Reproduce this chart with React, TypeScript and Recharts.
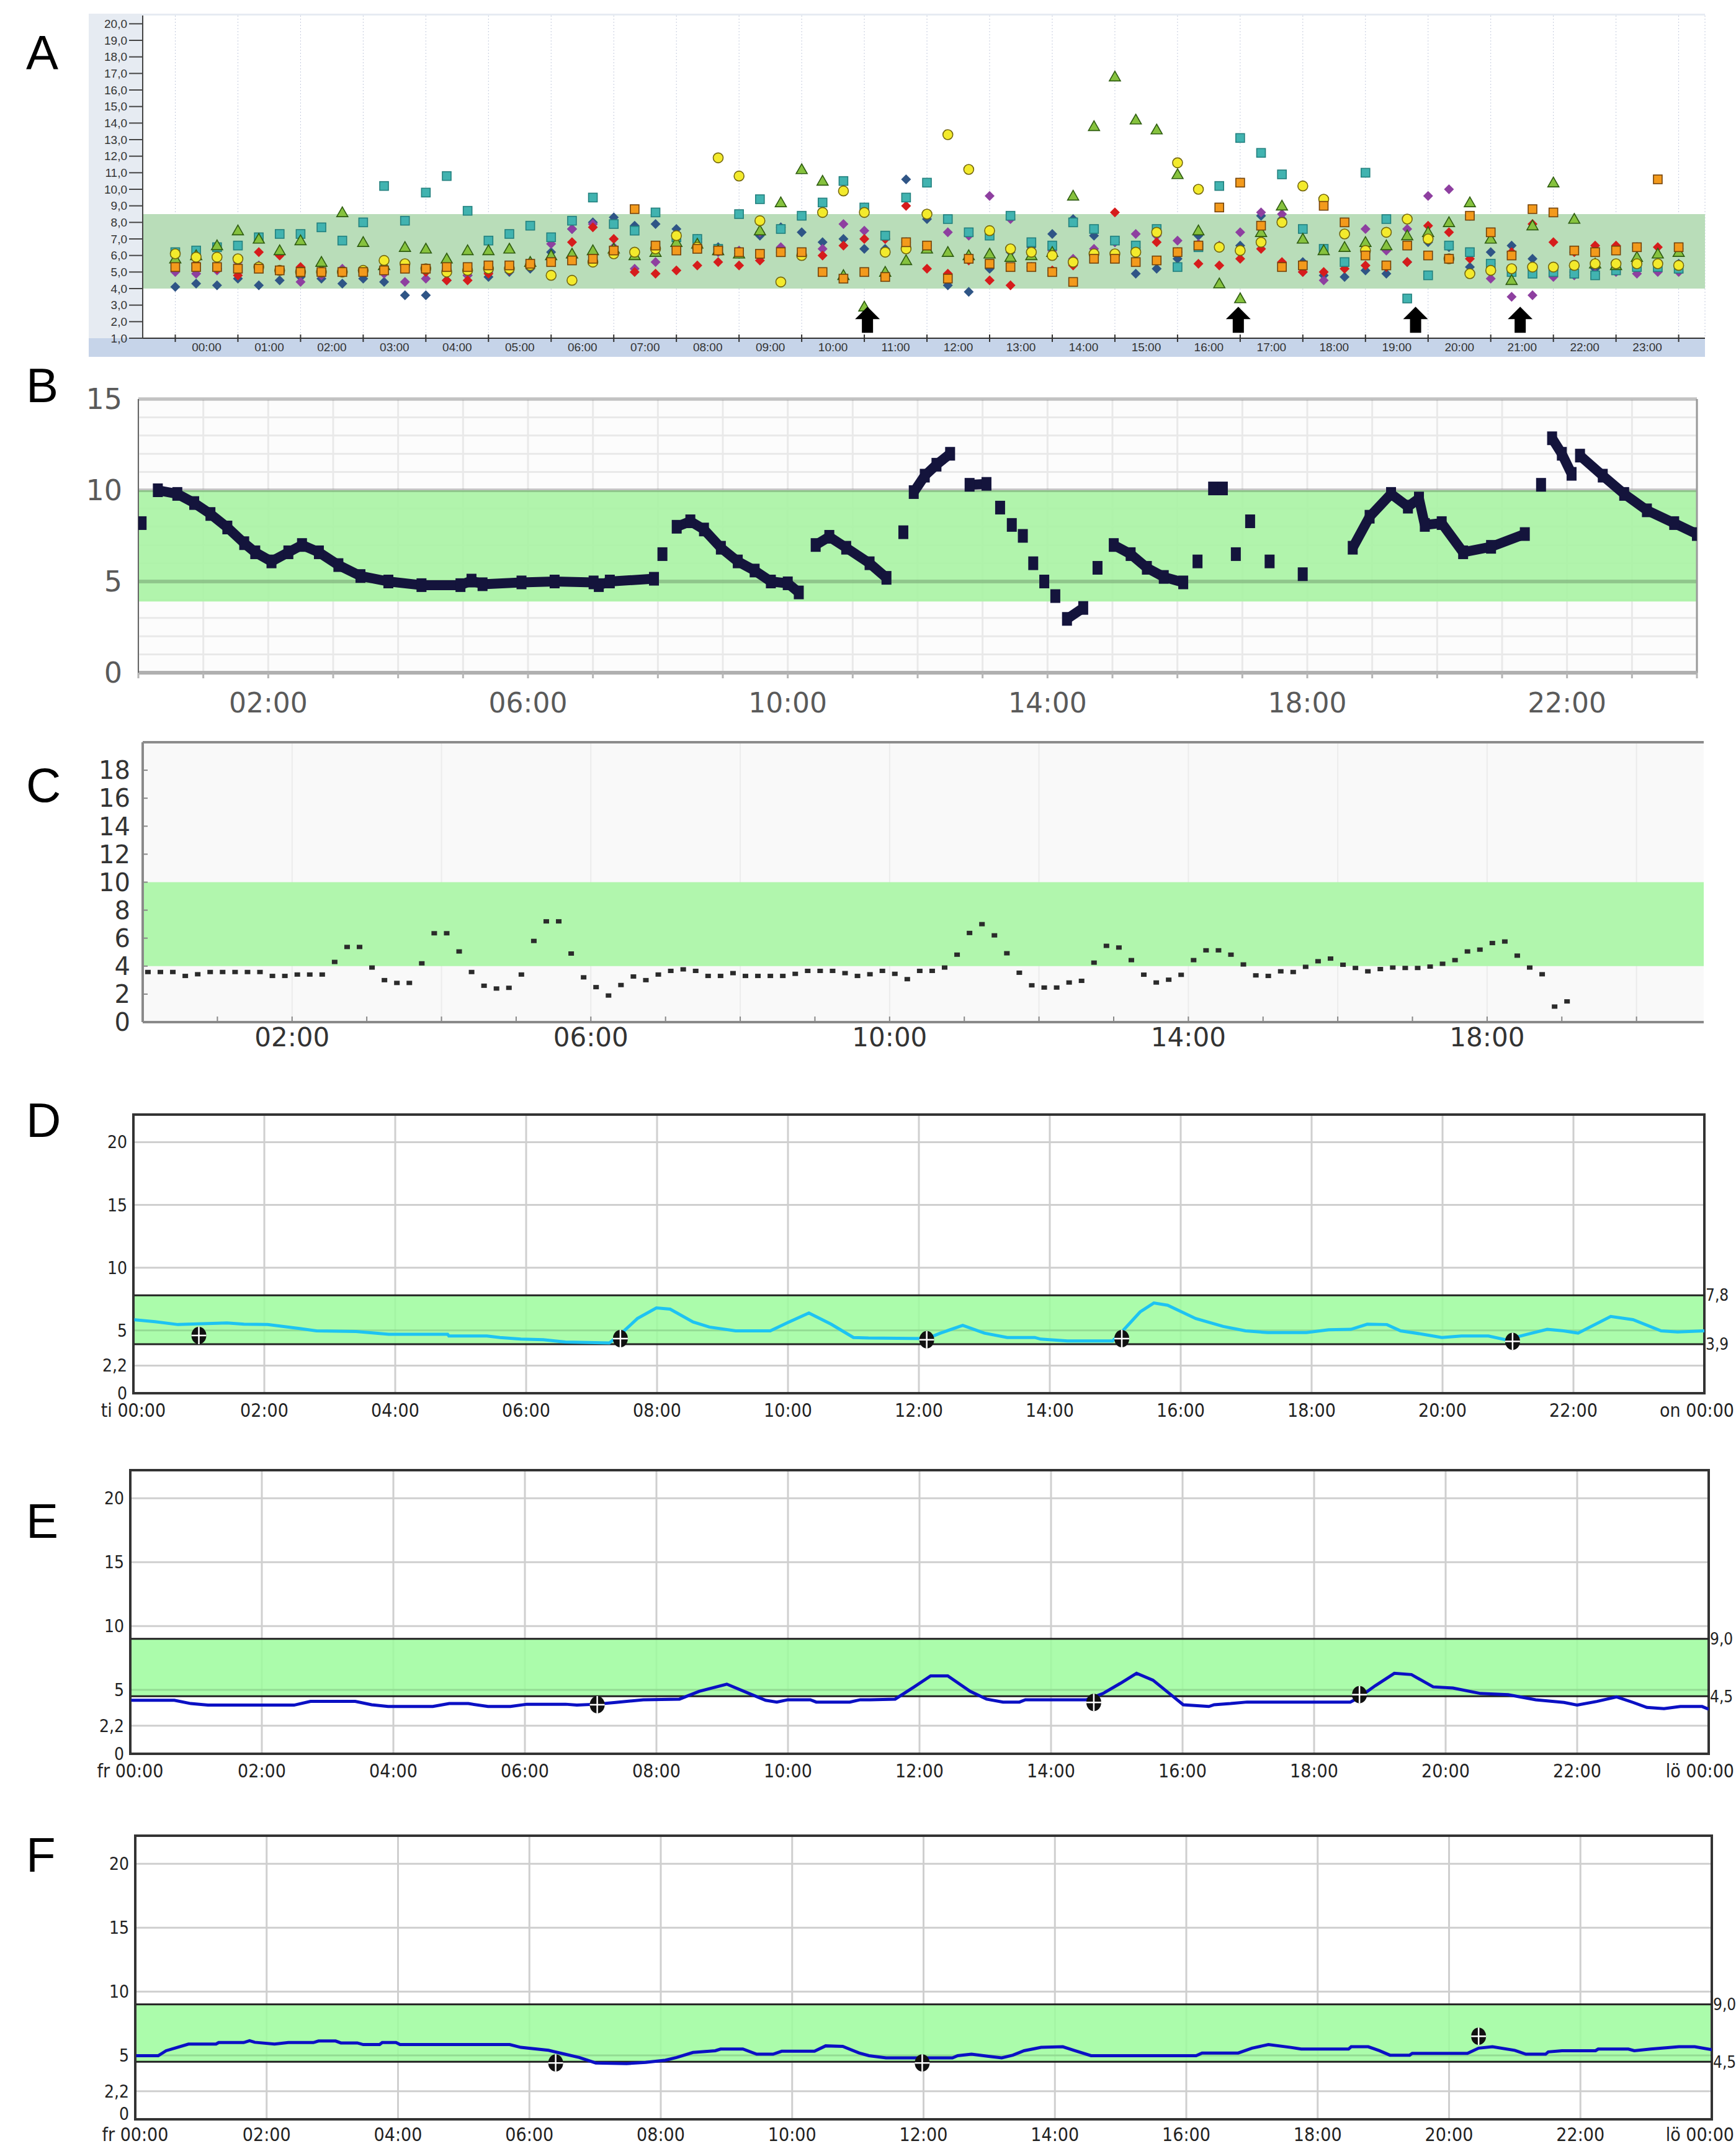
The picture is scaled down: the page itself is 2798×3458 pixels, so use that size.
import React from "react";
import {
  ScatterChart,
  ComposedChart,
  Scatter,
  Line,
  XAxis,
  YAxis,
  CartesianGrid,
  ReferenceArea,
  ReferenceLine,
  ReferenceDot,
} from "recharts";

const W = 2798;
const SANS = "'Liberation Sans', Arial, sans-serif";
const MPL = "'DejaVu Sans', sans-serif";
const NARROW = "'Liberation Sans Narrow', 'DejaVu Sans Condensed', 'Liberation Sans', sans-serif";

const hh = (h: number) => `${String(h).padStart(2, "0")}:00`;
const hours24 = Array.from({ length: 25 }, (_, i) => i);

// ---------- A: seven days overlaid, read every 20 min ----------
const aHours = Array.from({ length: 73 }, (_, i) => i / 3);
const aYTicks = [1, 2, 3, 4, 5, 6, 7, 8, 9, 10, 11, 12, 13, 14, 15, 16, 17, 18, 19, 20];
const aArrows = [11.05, 16.97, 19.8, 21.47];

const aGreen = [
  5.8, 6.0, 6.6, 7.5, 7.0, 6.3, 6.9, 5.6, 8.6, 6.8, 5.4, 6.5,
  6.4, 5.8, 6.3, 6.3, 6.4, 5.6, 6.0, 6.1, 6.3, 6.4, 6.0, 6.2,
  6.8, 6.7, 6.3, 6.1, 7.5, 9.2, 11.2, 10.5, 4.8, 2.9, 5.0, 5.7,
  6.4, 6.2, 6.0, 6.1, 5.9, 6.0, 6.2, 9.6, 13.8, 16.8, 14.2, 13.6,
  10.9, 7.5, 4.3, 3.4, 7.4, 9.0, 7.0, 6.3, 6.5, 6.8, 6.6, 7.2,
  7.4, 8.0, 9.2, 7.0, 4.5, 7.8, 10.4, 8.2, 5.5, 5.4, 5.9, 6.1,
  6.2,
];
const aTeal = [
  6.2, 6.3, 6.5, 6.6, 7.1, 7.3, 7.3, 7.7, 6.9, 8.0, 10.2, 8.1,
  9.8, 10.8, 8.7, 6.9, 7.3, 7.8, 7.1, 8.1, 9.5, 7.9, 7.5, 8.6,
  7.1, 7.0, 6.4, 8.5, 9.4, 7.6, 8.4, 9.2, 10.5, 8.9, 7.2, 9.5,
  10.4, 8.2, 7.4, 7.2, 8.4, 6.8, 6.6, 8.0, 7.6, 6.9, 6.6, 7.6,
  5.3, 6.5, 10.2, 13.1, 12.2, 10.9, 7.6, 6.4, 5.6, 11.0, 8.2, 3.4,
  4.8, 6.6, 6.2, 5.5, 5.0, 4.9, 5.0, 4.9, 4.8, 5.1, 5.3, 5.3,
  5.2,
];
const aYellow = [
  6.1, 5.9, 5.9, 5.8, 5.3, 5.1, 5.0, 5.0, 5.0, 5.1, 5.7, 5.5,
  5.2, 5.0, 5.1, 5.2, 5.2, 5.4, 4.8, 4.5, 5.6, 6.1, 6.2, 6.4,
  7.2, 6.5, 11.9, 10.8, 8.1, 4.4, 6.0, 8.6, 9.9, 8.6, 6.2, 6.4,
  8.5, 13.3, 11.2, 7.5, 6.4, 6.2, 6.0, 5.6, 6.1, 6.1, 6.2, 7.4,
  11.6, 10.0, 6.5, 6.3, 6.8, 8.0, 10.2, 9.4, 7.3, 6.3, 7.4, 8.2,
  7.0, 5.8, 4.9, 5.1, 5.2, 5.3, 5.3, 5.4, 5.5, 5.5, 5.5, 5.5,
  5.4,
];
const aOrange = [
  5.3, 5.3, 5.3, 5.2, 5.2, 5.1, 5.0, 5.0, 5.0, 5.0, 5.1, 5.2,
  5.2, 5.3, 5.3, 5.4, 5.4, 5.5, 5.6, 5.7, 5.8, 6.3, 8.8, 6.6,
  6.3, 6.4, 6.3, 6.2, 6.1, 6.2, 6.2, 5.0, 4.6, 5.0, 4.7, 6.8,
  6.6, 4.6, 5.8, 5.5, 5.3, 5.3, 5.0, 4.4, 5.8, 5.8, 5.6, 5.7,
  6.2, 6.6, 8.9, 10.4, 7.8, 5.3, 5.4, 9.0, 8.0, 6.0, 5.4, 6.6,
  6.0, 5.8, 8.4, 7.4, 6.0, 8.8, 8.6, 6.3, 6.2, 6.3, 6.5, 10.6,
  6.5,
];
const aRed = [
  5.6, 5.5, 5.2, 4.8, 6.2, 6.0, 5.3, 5.0, 5.0, 5.1, 5.2, 5.3,
  5.0, 4.5, 4.5, 4.9, 5.1, 5.5, 5.8, 6.8, 7.7, 7.0, 5.0, 4.9,
  5.1, 5.4, 5.6, 5.4, 5.7, 6.2, 6.1, 6.0, 6.6, 7.0, 7.0, 9.0,
  5.2, 4.9, 5.7, 4.5, 4.2, 5.3, 5.1, 5.4, 6.0, 8.6, 6.5, 6.8,
  6.2, 5.5, 5.4, 5.8, 6.4, 5.6, 5.0, 5.0, 5.2, 5.4, 5.3, 5.6,
  7.8, 7.4, 5.8, 5.5, 6.2, 7.9, 6.8, 6.2, 6.6, 6.6, 6.5, 6.5,
  6.4,
];
const aPurple = [
  5.0, 4.9, 5.1, 5.6, 5.4, 5.1, 4.4, 4.8, 5.2, 5.1, 4.9, 4.4,
  4.6, 5.2, 4.8, 5.0, 5.2, 5.6, 6.7, 7.6, 7.9, 6.5, 5.2, 5.6,
  6.4, 6.8, 6.2, 6.3, 7.4, 6.5, 6.1, 6.4, 7.9, 7.5, 7.0, 6.8,
  6.6, 7.4, 7.2, 9.6, 8.2, 6.2, 6.3, 5.8, 6.4, 6.8, 7.3, 7.2,
  6.9, 6.7, 6.6, 7.4, 8.6, 8.5, 5.0, 4.5, 7.3, 7.6, 6.3, 7.6,
  9.6, 10.0, 8.4, 4.6, 3.5, 3.6, 4.7, 4.8, 4.9, 5.0, 4.9, 5.0,
  5.0,
];
const aNavy = [
  4.1, 4.3, 4.2, 4.6, 4.2, 4.5, 4.7, 4.6, 4.3, 4.6, 4.4, 3.6,
  3.6, 4.5, 4.8, 4.7, 5.0, 5.2, 6.2, 7.6, 8.0, 8.3, 7.8, 7.9,
  7.6, 7.0, 6.5, 6.1, 7.2, 7.7, 7.4, 6.8, 7.0, 6.4, 6.4, 10.6,
  8.2, 4.2, 3.8, 5.2, 6.2, 6.5, 7.3, 8.2, 7.2, 6.8, 4.9, 5.2,
  5.8, 7.2, 6.5, 6.6, 8.4, 8.2, 5.6, 4.8, 4.7, 5.1, 4.9, 5.6,
  6.8, 6.5, 5.3, 6.2, 6.6, 5.8, 5.1, 5.0, 5.2, 5.3, 5.4, 5.5,
  5.5,
];

// ---------- B: one day, thick dots (null = gap) ----------
const bPoints: [number, number | null][] = [
  [0.05, 8.2], [0.18, null],
  [0.3, 10.0], [0.6, 9.8], [0.86, 9.3], [1.11, 8.7], [1.37, 7.96], [1.63, 7.1], [1.8, 6.6],
  [2.05, 6.1], [2.31, 6.6], [2.52, 7.0], [2.78, 6.6], [3.08, 5.9], [3.42, 5.3], [3.85, 5.0],
  [4.36, 4.8], [4.96, 4.8], [5.13, 5.05], [5.3, 4.85], [5.9, 4.95], [6.41, 5.0], [7.01, 4.95],
  [7.09, 4.8], [7.26, 5.0], [7.94, 5.15], [8.0, null],
  [8.07, 6.5], [8.18, null],
  [8.29, 8.0], [8.5, 8.3], [8.71, 7.85], [8.97, 6.85], [9.23, 6.1], [9.49, 5.6], [9.74, 5.0],
  [10.0, 4.9], [10.17, 4.4], [10.3, null],
  [10.43, 7.0], [10.64, 7.45], [10.9, 6.85], [11.26, 6.0], [11.52, 5.2], [11.65, null],
  [11.78, 7.7], [11.86, null],
  [11.94, 9.9], [12.11, 10.8], [12.29, 11.4], [12.5, 12.0], [12.65, null],
  [12.8, 10.3], [13.06, 10.35], [13.16, null],
  [13.27, 9.05], [13.36, null], [13.45, 8.1], [13.53, null], [13.62, 7.5], [13.7, null],
  [13.78, 6.0], [13.86, null], [13.95, 5.0], [14.03, null], [14.12, 4.2], [14.2, null],
  [14.3, 2.95], [14.55, 3.55], [14.66, null],
  [14.77, 5.75], [14.9, null],
  [15.02, 7.0], [15.28, 6.5], [15.53, 5.75], [15.79, 5.25], [16.09, 4.95], [16.2, null],
  [16.31, 6.1], [16.43, null],
  [16.55, 10.1], [16.7, 10.1], [16.8, null],
  [16.9, 6.5], [17.0, null],
  [17.12, 8.3], [17.27, null],
  [17.42, 6.1], [17.7, null],
  [17.93, 5.4], [18.3, null],
  [18.7, 6.85], [18.96, 8.55], [19.29, 9.8], [19.55, 9.1], [19.72, 9.55], [19.81, 8.1],
  [20.07, 8.2], [20.4, 6.6], [20.83, 6.9], [21.35, 7.6], [21.48, null],
  [21.6, 10.3], [21.68, null],
  [21.77, 12.85], [21.92, 12.0], [22.07, 10.9], [22.14, null],
  [22.2, 11.9], [22.55, 10.8], [22.88, 9.8], [23.23, 8.9], [23.65, 8.2], [24.0, 7.6],
];
const bLabelHours = [2, 6, 10, 14, 18, 22];
const bGrid = [0, 1, 2, 3, 4, 5, 6, 7, 8, 9, 10, 11, 12, 13, 14, 15];

// ---------- C: one day, 10 min readings from 00:04 ----------
const cStart = 0.07;
const cValues = [
  3.58, 3.58, 3.58, 3.3, 3.42, 3.58, 3.58, 3.58, 3.58, 3.58, 3.3, 3.3, 3.4, 3.4, 3.4,
  4.3, 5.37, 5.37, 3.9, 3.0, 2.8, 2.8, 4.2, 6.35, 6.35, 5.05, 3.58, 2.6, 2.4, 2.45,
  3.4, 5.8, 7.2, 7.2, 4.9, 3.2, 2.5, 1.9, 2.65, 3.26, 3.0, 3.4, 3.66, 3.77, 3.66,
  3.3, 3.3, 3.5, 3.3, 3.3, 3.3, 3.3, 3.45, 3.66, 3.66, 3.66, 3.5, 3.3,
  3.42, 3.66, 3.45, 3.07, 3.66, 3.66, 3.9, 4.82, 6.37, 7.0, 6.2, 4.92, 3.53, 2.63, 2.47,
  2.47, 2.83, 2.95, 4.25, 5.45, 5.33, 4.43, 3.39, 2.83, 3.03, 3.38, 4.43, 5.13, 5.13, 4.82,
  4.12, 3.34, 3.3, 3.63, 3.58, 3.95, 4.35, 4.54, 4.1, 3.87, 3.63, 3.79, 3.9, 3.87, 3.87,
  3.97, 4.17, 4.43, 5.05, 5.18, 5.65, 5.76, 4.75, 3.9, 3.42, 1.11, 1.48,
];
const cYTicks = [0, 2, 4, 6, 8, 10, 12, 14, 16, 18];
const cXTicks = [0, 1, 2, 3, 4, 5, 6, 7, 8, 9, 10, 11, 12, 13, 14, 15, 16, 17, 18, 19, 20];
const cLabelHours = [2, 6, 10, 14, 18];

// ---------- D ----------
const dT = [
  0, 0.33, 0.68, 1.43, 1.69, 2.05, 2.54, 2.8, 3.4, 3.9, 4.8, 4.82, 5.4, 5.6, 5.92, 6.26, 6.6,
  7.27, 7.44, 7.7, 7.99, 8.2, 8.55, 8.8, 9.2, 9.73, 9.98, 10.32, 10.66, 11.0, 11.23, 12.12,
  12.33, 12.67, 13.0, 13.35, 13.77, 13.86, 14.27, 14.96, 15.13, 15.38, 15.59, 15.8, 16.23,
  16.65, 16.99, 17.33, 17.92, 18.26, 18.6, 18.85, 19.15, 19.36, 19.7, 19.99, 20.29, 20.7,
  20.97, 21.3, 21.6, 21.85, 22.07, 22.57, 22.91, 23.34, 23.59, 24,
];
const dV = [
  5.86, 5.7, 5.47, 5.6, 5.5, 5.47, 5.15, 4.97, 4.92, 4.7, 4.7, 4.56, 4.56, 4.44, 4.31, 4.26, 4.08,
  4.0, 4.7, 5.95, 6.8, 6.7, 5.68, 5.27, 4.97, 4.97, 5.59, 6.39, 5.5, 4.44, 4.4, 4.35,
  4.79, 5.41, 4.79, 4.44, 4.44, 4.31, 4.17, 4.17, 5.06, 6.48, 7.19, 7.01, 5.95,
  5.32, 4.97, 4.83, 4.83, 5.06, 5.09, 5.5, 5.47, 4.97, 4.7, 4.44, 4.56, 4.56,
  4.26, 4.7, 5.09, 4.97, 4.79, 6.12, 5.86, 4.97, 4.88, 4.97,
];
const dMealT = [1.0, 7.44, 12.12, 15.1, 21.07];
const dMealV = [4.6, 4.35, 4.26, 4.35, 4.13];

// ---------- E ----------
const eT = [
  0, 0.67, 0.92, 1.18, 2.49, 2.74, 3.42, 3.67, 3.92, 4.6, 4.85, 5.14, 5.44, 5.78, 6.03, 6.62,
  6.79, 7.08, 7.38, 7.8, 8.35, 8.65, 9.07, 9.41, 9.66, 9.83, 10.0, 10.34, 10.43, 10.94, 11.1,
  11.25, 11.63, 11.92, 12.17, 12.43, 12.77, 13.02, 13.27, 13.52, 13.61, 14.54, 14.79, 15.05,
  15.3, 15.55, 15.8, 16.01, 16.4, 16.48, 16.73, 16.98, 18.55, 18.67, 18.93, 19.22, 19.48,
  19.81, 20.11, 20.53, 20.95, 21.37, 21.8, 22.0, 22.3, 22.6, 22.85, 23.06, 23.32, 23.57, 23.9, 24,
];
const eV = [
  4.19, 4.19, 3.93, 3.81, 3.81, 4.1, 4.1, 3.84, 3.7, 3.7, 3.93, 3.93, 3.7, 3.7, 3.88, 3.88,
  3.81, 3.88, 4.02, 4.23, 4.28, 4.89, 5.45, 4.72, 4.19, 4.05, 4.23, 4.23, 4.05, 4.05, 4.23,
  4.23, 4.28, 5.24, 6.1, 6.1, 4.89, 4.28, 4.05, 4.05, 4.23, 4.23, 4.72, 5.5,
  6.3, 5.76, 4.72, 3.84, 3.7, 3.84, 3.93, 4.05, 4.05, 4.37, 5.33, 6.3, 6.2,
  5.24, 5.15, 4.72, 4.63, 4.23, 4.02, 3.81, 4.1, 4.45, 4.02, 3.63, 3.53, 3.7, 3.7, 3.49,
];
const eMealT = [7.1, 14.65, 18.69];
const eMealV = [3.84, 4.02, 4.63];

// ---------- F ----------
const fT = [
  0, 0.35, 0.47, 0.81, 1.23, 1.27, 1.65, 1.74, 1.82, 2.12, 2.33, 2.71, 2.79, 3.05, 3.13, 3.38,
  3.47, 3.72, 3.76, 3.97, 4.03, 5.7, 5.87, 6.29, 6.54, 6.76, 7.01, 7.48, 7.77, 8.07, 8.24, 8.49,
  8.83, 8.91, 9.25, 9.46, 9.71, 9.84, 10.34, 10.51, 10.77, 11.02, 11.17, 11.43, 12.44, 12.52,
  12.73, 12.99, 13.19, 13.36, 13.53, 13.79, 14.12, 14.29, 14.55, 16.15, 16.24, 16.79, 17.0,
  17.25, 17.59, 17.75, 18.47, 18.51, 18.77, 18.94, 19.1, 19.4, 19.44, 20.28, 20.45, 20.66,
  21.0, 21.17, 21.47, 21.51, 21.72, 22.23, 22.27, 22.73, 22.82, 23.07, 23.5, 23.74, 24,
];
const fV = [
  4.98, 4.98, 5.37, 5.89, 5.89, 6.01, 6.01, 6.15, 6.03, 5.89, 6.01, 6.01, 6.13, 6.13, 5.98, 5.98,
  5.85, 5.85, 6.01, 6.01, 5.85, 5.85, 5.63, 5.4, 5.1, 4.84, 4.41, 4.36, 4.46, 4.63, 4.84, 5.23,
  5.37, 5.5, 5.5, 5.1, 5.1, 5.33, 5.33, 5.75, 5.71, 5.19, 4.98, 4.81, 4.81, 4.98,
  5.1, 4.93, 4.81, 5.02, 5.37, 5.63, 5.68, 5.4, 4.98, 4.98, 5.19, 5.19, 5.57,
  5.85, 5.63, 5.5, 5.5, 5.68, 5.68, 5.37, 5.02, 5.02, 5.16, 5.16, 5.57, 5.68,
  5.4, 5.1, 5.1, 5.28, 5.37, 5.37, 5.5, 5.5, 5.37, 5.5, 5.68, 5.68, 5.45,
];
const fMealT = [6.4, 11.98, 20.45];
const fMealV = [4.41, 4.41, 6.5];

const cgmXTicks = [0, 2, 4, 6, 8, 10, 12, 14, 16, 18, 20, 22, 24];
const cgmYTicks = [0, 2.2, 5, 10, 15, 20];

// ---------- marker shapes ----------
const squareShape = (fill: string, stroke: string, s: number) => (p: any) =>
  p.cx == null ? <g /> : (
    <rect x={p.cx - s / 2} y={p.cy - s / 2} width={s} height={s} fill={fill} stroke={stroke} strokeWidth={1.6} />
  );
const circleShape = (fill: string, stroke: string, r: number) => (p: any) =>
  p.cx == null ? <g /> : <circle cx={p.cx} cy={p.cy} r={r} fill={fill} stroke={stroke} strokeWidth={1.6} />;
const triShape = (fill: string, stroke: string, s: number) => (p: any) =>
  p.cx == null ? <g /> : (
    <polygon
      points={`${p.cx},${p.cy - s} ${p.cx + s},${p.cy + s * 0.75} ${p.cx - s},${p.cy + s * 0.75}`}
      fill={fill}
      stroke={stroke}
      strokeWidth={1.6}
    />
  );
const diamondShape = (fill: string, s: number) => (p: any) =>
  p.cx == null ? <g /> : (
    <polygon points={`${p.cx},${p.cy - s} ${p.cx + s},${p.cy} ${p.cx},${p.cy + s} ${p.cx - s},${p.cy}`} fill={fill} />
  );

const arrowShape = (p: any) => {
  const { cx, cy } = p;
  return (
    <polygon
      points={`${cx},${cy} ${cx + 20},${cy + 20} ${cx + 9},${cy + 20} ${cx + 9},${cy + 42} ${cx - 9},${cy + 42} ${cx - 9},${cy + 20} ${cx - 20},${cy + 20}`}
      fill="#000"
    />
  );
};

const mealShape = (p: any) => {
  if (p.cx == null) return <g />;
  const { cx, cy } = p;
  return (
    <g>
      <ellipse cx={cx} cy={cy} rx={12} ry={14} fill="#111" />
      <line x1={cx} x2={cx} y1={cy - 14} y2={cy + 14} stroke="#fff" strokeWidth={2.5} />
      <line x1={cx - 12} x2={cx + 12} y1={cy} y2={cy} stroke="#fff" strokeWidth={2.5} />
    </g>
  );
};

const toA = (vals: number[]) => vals.map((v, i) => ({ t: aHours[i], v }));

const aSeries = [
  { key: "navy", data: toA(aNavy), shape: diamondShape("#2f5586", 8) },
  { key: "purple", data: toA(aPurple), shape: diamondShape("#8e3fa0", 8) },
  { key: "red", data: toA(aRed), shape: diamondShape("#d61c1c", 8) },
  { key: "teal", data: toA(aTeal), shape: squareShape("#41b3b0", "#23807e", 14) },
  { key: "green", data: toA(aGreen), shape: triShape("#86c23e", "#2e5c10", 9) },
  { key: "yellow", data: toA(aYellow), shape: circleShape("#f3ea2c", "#74670e", 8) },
  { key: "orange", data: toA(aOrange), shape: squareShape("#f39a1c", "#74430a", 14) },
];

const ATick = ({ x, y, payload }: any) => (
  <g>
    <line x1={x} x2={x} y1={y - 6} y2={y + 6} stroke="#333" strokeWidth={2} />
    {payload.value < 24 && (
      <text x={x + 50.5} y={y + 21} textAnchor="middle" fontSize={19} fill="#333" fontFamily={SANS}>
        {hh(payload.value)}
      </text>
    )}
  </g>
);

function PanelA() {
  return (
    <>
      <div style={{ position: "absolute", left: 143, top: 22, width: 2605, height: 553, background: "#e6ebf2" }} />
      <div style={{ position: "absolute", left: 143, top: 545, width: 2605, height: 30, background: "#c6d4e9" }} />
      <div style={{ position: "absolute", left: 0, top: 0 }}>
        <ScatterChart width={W} height={600} margin={{ top: 25, right: 50, bottom: 0, left: 0 }}>
          <CartesianGrid horizontal={false} stroke="#c4cbdd" strokeDasharray="2 3" fill="#ffffff" />
          <ReferenceArea y1={4.0} y2={8.5} fill="#b9ddb9" fillOpacity={1} stroke="none" />
          <XAxis
            type="number"
            dataKey="t"
            domain={[-0.52, 24.42]}
            ticks={hours24}
            interval={0}
            allowDataOverflow
            height={55}
            tickSize={0}
            tickMargin={0}
            tickLine={false}
            axisLine={{ stroke: "#333", strokeWidth: 2 }}
            tick={<ATick />}
          />
          <YAxis
            type="number"
            dataKey="v"
            domain={[1, 20.5]}
            ticks={aYTicks}
            interval={0}
            allowDataOverflow
            width={230}
            tickSize={22}
            tickMargin={3}
            tickFormatter={(v: number) => v.toFixed(1).replace(".", ",")}
            tick={{ fontSize: 19, fill: "#333", fontFamily: SANS }}
            tickLine={{ stroke: "#444", strokeWidth: 2 }}
            axisLine={{ stroke: "#444", strokeWidth: 2 }}
          />
          {aSeries.map((s) => (
            <Scatter key={s.key} data={s.data} dataKey="v" shape={s.shape} isAnimationActive={false} />
          ))}
          {aArrows.map((t) => (
            <ReferenceDot key={t} x={t} y={2.9} r={0} shape={arrowShape} />
          ))}
        </ScatterChart>
      </div>
    </>
  );
}

function PanelB() {
  const data = bPoints.map(([t, v]) => ({ t, v }));
  const dot = (p: any) =>
    p.cy == null || p.value == null || Number.isNaN(p.cy) ? (
      <g key={`bd${p.index}`} />
    ) : (
      <rect key={`bd${p.index}`} x={p.cx - 8} y={p.cy - 11} width={16} height={22} fill="#14143c" />
    );
  return (
    <div style={{ position: "absolute", left: 0, top: 600 }}>
      <ComposedChart width={W} height={560} margin={{ top: 43, right: 63, bottom: 0, left: 0 }}>
        <CartesianGrid horizontalValues={bGrid} verticalValues={hours24} stroke="#e9e9e9" strokeWidth={3} fill="#fcfcfc" />
        <ReferenceArea y1={3.9} y2={10} fill="#a6f3a1" fillOpacity={0.88} stroke="none" />
        {[5, 10, 15].map((v) => (
          <ReferenceLine key={v} y={v} stroke="rgba(0,0,0,0.18)" strokeWidth={6} />
        ))}
        <ReferenceLine x={24} stroke="#9a9a9a" strokeWidth={3} />
        <XAxis
          type="number"
          dataKey="t"
          domain={[0, 24]}
          ticks={hours24}
          interval={0}
          allowDataOverflow
          height={76}
          tickSize={9}
          tickMargin={24}
          tickFormatter={(v: number) => (bLabelHours.includes(v) ? hh(v) : "")}
          tick={{ fontSize: 44, fill: "#5a5a5a", fontFamily: MPL }}
          tickLine={{ stroke: "#b5b5b5", strokeWidth: 3 }}
          axisLine={{ stroke: "#b0b0b0", strokeWidth: 6 }}
        />
        <YAxis
          type="number"
          dataKey="v"
          domain={[0, 15]}
          ticks={[0, 5, 10, 15]}
          interval={0}
          allowDataOverflow
          width={223}
          tickSize={0}
          tickMargin={26}
          tick={{ fontSize: 46, fill: "#5a5a5a", fontFamily: MPL }}
          tickLine={false}
          axisLine={{ stroke: "#666", strokeWidth: 2 }}
        />
        <Line
          data={data}
          dataKey="v"
          stroke="#14143c"
          strokeWidth={16}
          strokeLinejoin="round"
          connectNulls={false}
          dot={dot}
          isAnimationActive={false}
        />
      </ComposedChart>
    </div>
  );
}

function PanelC() {
  const data = cValues.map((v, i) => ({ t: cStart + i / 6, v }));
  const shape = (p: any) =>
    p.cx == null ? <g /> : <rect x={p.cx - 4.5} y={p.cy - 3.5} width={9} height={7} fill="#2b2b2b" />;
  return (
    <div style={{ position: "absolute", left: 0, top: 1160 }}>
      <ScatterChart width={W} height={560} margin={{ top: 36, right: 52, bottom: 0, left: 0 }}>
        <CartesianGrid horizontal={false} verticalValues={[2, 4, 6, 8, 10, 12, 14, 16, 18, 20]} stroke="#ececec" strokeWidth={2} fill="#f9f9f9" />
        <ReferenceArea y1={4} y2={10} fill="#b1f6ad" fillOpacity={1} stroke="none" />
        <ReferenceLine y={20} stroke="#8c8c8c" strokeWidth={4} />
        <XAxis
          type="number"
          dataKey="t"
          domain={[0, 20.9]}
          ticks={cXTicks}
          interval={0}
          allowDataOverflow
          height={73}
          tickSize={-9}
          tickMargin={18}
          tickFormatter={(v: number) => (cLabelHours.includes(v) ? hh(v) : "")}
          tick={{ fontSize: 42, fill: "#333", fontFamily: MPL }}
          tickLine={{ stroke: "#888", strokeWidth: 2 }}
          axisLine={{ stroke: "#8a8a8a", strokeWidth: 4 }}
        />
        <YAxis
          type="number"
          dataKey="v"
          domain={[0, 20]}
          ticks={cYTicks}
          interval={0}
          allowDataOverflow
          width={230}
          tickSize={-8}
          tickMargin={28}
          tick={{ fontSize: 40, fill: "#333", fontFamily: MPL }}
          tickLine={{ stroke: "#888", strokeWidth: 2 }}
          axisLine={{ stroke: "#8a8a8a", strokeWidth: 4 }}
        />
        <Scatter data={data} dataKey="v" shape={shape} isAnimationActive={false} />
      </ScatterChart>
    </div>
  );
}

type CgmProps = {
  top: number;
  height: number;
  mTop: number;
  xH: number;
  xGap: number;
  zeroDy: string;
  yW: number;
  mRight: number;
  times: number[];
  values: number[];
  mealT: number[];
  mealV: number[];
  color: string;
  lo: number;
  hi: number;
  first: string;
  last: string;
};

function CgmPanel(p: CgmProps) {
  const data = p.times.map((t, i) => ({ t, v: p.values[i] }));
  const meals = p.mealT.map((t, i) => ({ t, v: p.mealV[i] }));
  const edgeLabel = (v: number) => ({
    value: v.toFixed(1).replace(".", ","),
    position: "right" as const,
    offset: 2,
    fill: "#222",
    fontSize: 26,
    fontFamily: NARROW,
  });
  const xTick = (t: any) => {
    const v = t.payload.value;
    const isLast = v === 24;
    const label = v === 0 ? p.first : isLast ? p.last : hh(v);
    return (
      <text
        key={`xt${v}`}
        x={isLast ? W - 3 : t.x}
        y={t.y}
        dy="0.71em"
        textAnchor={isLast ? "end" : "middle"}
        fontSize={30}
        fill="#222"
        fontFamily={NARROW}
      >
        {label}
      </text>
    );
  };
  const yTick = (t: any) => {
    const v = t.payload.value;
    return (
      <text
        key={`yt${v}`}
        x={t.x}
        y={t.y}
        dy={v === 0 ? p.zeroDy : "0.355em"}
        textAnchor="end"
        fontSize={28}
        fill="#222"
        fontFamily={NARROW}
      >
        {String(v).replace(".", ",")}
      </text>
    );
  };
  return (
    <div style={{ position: "absolute", left: 0, top: p.top }}>
      <ComposedChart width={W} height={p.height} margin={{ top: p.mTop, right: p.mRight, bottom: 0, left: 0 }}>
        <CartesianGrid stroke="#cfcfcf" strokeWidth={3} fill="#ffffff" />
        <ReferenceArea y1={p.lo} y2={p.hi} fill="#9dfb9d" fillOpacity={0.86} stroke="none" />
        <ReferenceLine y={5} stroke="rgba(0,0,0,0.10)" strokeWidth={3} />
        <ReferenceLine y={p.hi} stroke="#222" strokeWidth={3} label={edgeLabel(p.hi)} />
        <ReferenceLine y={p.lo} stroke="#222" strokeWidth={3} label={edgeLabel(p.lo)} />
        <XAxis
          type="number"
          dataKey="t"
          domain={[0, 24]}
          ticks={cgmXTicks}
          interval={0}
          allowDataOverflow
          height={p.xH}
          tickSize={0}
          tickMargin={p.xGap}
          tick={xTick}
          tickLine={false}
          axisLine={{ stroke: "#333", strokeWidth: 4 }}
        />
        <YAxis
          type="number"
          dataKey="v"
          domain={[0, 22.2]}
          ticks={cgmYTicks}
          interval={0}
          allowDataOverflow
          width={p.yW}
          tickSize={0}
          tickMargin={10}
          tick={yTick}
          tickLine={false}
          axisLine={{ stroke: "#333", strokeWidth: 3 }}
        />
        <Line data={data} dataKey="v" stroke={p.color} strokeWidth={5} dot={false} isAnimationActive={false} />
        <Scatter data={meals} dataKey="v" shape={mealShape} isAnimationActive={false} />
        <ReferenceArea y1={0} y2={22.2} fill="none" stroke="#333" strokeWidth={4} />
      </ComposedChart>
    </div>
  );
}

const panelLetters = [
  { text: "A", top: 46 },
  { text: "B", top: 582 },
  { text: "C", top: 1226 },
  { text: "D", top: 1766 },
  { text: "E", top: 2412 },
  { text: "F", top: 2950 },
];

export default function App() {
  return (
    <div style={{ position: "absolute", left: 0, top: 0, width: W, height: 3458, background: "#fff", overflow: "hidden" }}>
      <PanelA />
      <PanelB />
      <PanelC />
      <CgmPanel top={1740} height={580} mTop={56} xH={75} xGap={17} zeroDy="0.355em" yW={215} mRight={51} times={dT} values={dV} mealT={dMealT} mealV={dMealV} color="#1ec3f2" lo={3.9} hi={7.8} first="ti 00:00" last="on 00:00" />
      <CgmPanel top={2330} height={560} mTop={39} xH={64} xGap={17} zeroDy="0.355em" yW={210} mRight={44} times={eT} values={eV} mealT={eMealT} mealV={eMealV} color="#0b10c4" lo={4.5} hi={9.0} first="fr 00:00" last="lö 00:00" />
      <CgmPanel top={2900} height={558} mTop={58} xH={43} xGap={14} zeroDy="0.05em" yW={218} mRight={39} times={fT} values={fV} mealT={fMealT} mealV={fMealV} color="#0b10c4" lo={4.5} hi={9.0} first="fr 00:00" last="lö 00:00" />
      {panelLetters.map((l) => (
        <div
          key={l.text}
          style={{ position: "absolute", left: 42, top: l.top, fontSize: 78, lineHeight: 1, fontFamily: SANS, color: "#000" }}
        >
          {l.text}
        </div>
      ))}
    </div>
  );
}
